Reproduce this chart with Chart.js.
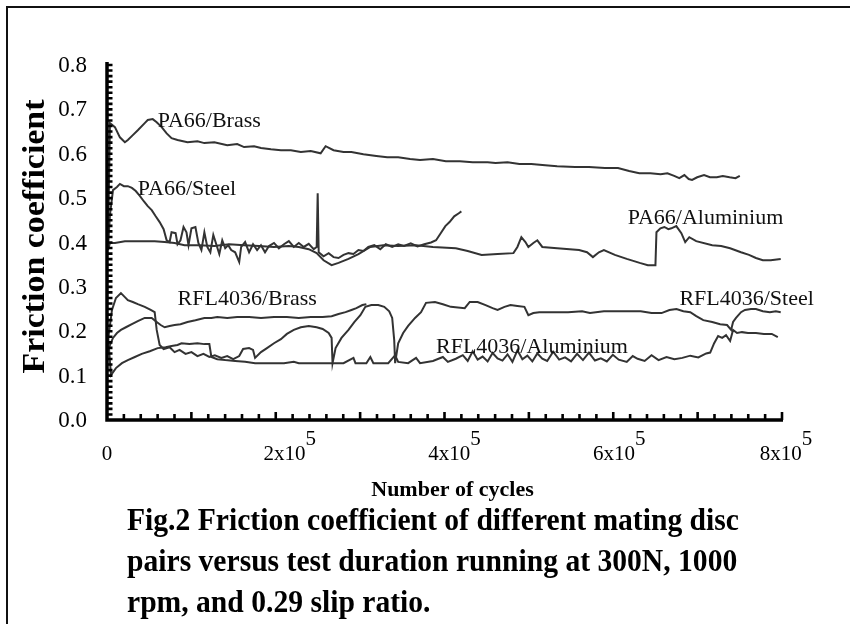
<!DOCTYPE html>
<html>
<head>
<meta charset="utf-8">
<script src="https://cdn.jsdelivr.net/npm/chart.js@4.4.1/dist/chart.umd.min.js"></script>
<style>
  html, body { margin:0; padding:0; background:#fff; }
  body { width:850px; height:624px; position:relative; overflow:hidden; }
  #frame { position:absolute; left:6px; top:6px; width:900px; height:700px;
           border-left:2px solid #111; border-top:2px solid #111; }
  #c { position:absolute; left:0; top:0; }
  #caption { position:absolute; left:127px; top:499px; font-family:'Liberation Serif','Times New Roman',serif;
             font-weight:bold; font-size:31px; line-height:41px; color:#000; white-space:pre;
             transform:scaleX(0.955); transform-origin:0 0; }
</style>
</head>
<body>
<div id="frame"></div>
<canvas id="c" width="850" height="624"></canvas>
<div id="caption">Fig.2 Friction coefficient of different mating disc
pairs versus test duration running at 300N, 1000
rpm, and 0.29 slip ratio.</div>
<script>
// ---------- data (x in thousands of cycles, y = friction coefficient) ----------
const pa66BrassCycles = [1.2,3.5,9.4,15.3,21.2,24.7,30.6,36.5,44.7,48.3,54.2,58.9,64.8,70.7,76.5,83.6,95.4,107.2,115.4,127.2,142.5,154.3,162.5,174.3,182.5,194.3,206.1,217.9,229.7,241.5,253.2,259.1,268.5,280.3,289.7,303.9,319.2,332.1,345.1,359.2,371.0,386.3,401.6,418.1,433.4,451.1,460.5,474.7,488.8,502.9,519.4,533.5,554.7,571.2,590.1,605.6,618.8,630.9,644.0,656.1,664.2,672.2,678.3,684.3,689.4,693.4,699.5,707.6,714.6,722.7,729.8,737.9,744.9,750.0];
const pa66BrassMu = [0.394,0.669,0.660,0.637,0.626,0.631,0.642,0.653,0.669,0.676,0.678,0.671,0.660,0.646,0.635,0.631,0.626,0.628,0.624,0.626,0.619,0.622,0.615,0.617,0.613,0.610,0.608,0.608,0.604,0.606,0.601,0.617,0.608,0.604,0.604,0.599,0.595,0.592,0.592,0.588,0.586,0.588,0.583,0.583,0.581,0.581,0.579,0.581,0.577,0.577,0.574,0.572,0.570,0.570,0.568,0.568,0.561,0.556,0.556,0.554,0.556,0.550,0.545,0.552,0.543,0.541,0.547,0.552,0.547,0.547,0.550,0.547,0.545,0.550];

const pa66SteelCycles = [1.2,3.5,7.1,11.8,15.3,20.0,24.7,29.5,34.1,38.9,43.6,48.3,53.0,57.7,62.4,67.1,70.7,74.2,76.5,81.3,83.6,87.1,90.7,94.2,96.6,100.1,104.8,108.3,111.9,115.4,118.9,122.5,126.0,129.5,133.1,136.6,140.1,143.7,147.2,151.9,156.7,159.0,163.7,168.4,173.1,177.9,182.5,187.3,192.0,197.9,203.7,209.7,215.5,221.4,227.3,233.2,239.1,245.0,248.5,249.7,250.9,256.7,262.7,268.5,274.4,280.3,286.2,292.1,298.0,303.9,309.7,316.8,323.9,330.4,338.0,345.1,352.0,360.0,368.0,376.0,384.0,390.0,395.5,401.0,406.0,411.5,417.0,420.0];
const pa66SteelMu = [0.390,0.462,0.518,0.525,0.532,0.527,0.527,0.523,0.516,0.505,0.493,0.482,0.473,0.459,0.446,0.430,0.405,0.401,0.423,0.421,0.396,0.405,0.435,0.423,0.394,0.432,0.435,0.399,0.383,0.423,0.390,0.378,0.417,0.396,0.374,0.405,0.387,0.394,0.383,0.378,0.356,0.390,0.401,0.378,0.396,0.383,0.394,0.378,0.392,0.399,0.387,0.396,0.403,0.390,0.399,0.390,0.397,0.385,0.390,0.511,0.378,0.369,0.376,0.367,0.365,0.372,0.376,0.374,0.383,0.381,0.390,0.394,0.385,0.396,0.390,0.396,0.392,0.398,0.391,0.396,0.400,0.405,0.421,0.437,0.446,0.459,0.466,0.470];

const pa66AlCycles = [1.2,3.5,9.4,21.2,38.9,56.5,68.3,80.1,91.9,109.5,127.2,144.9,162.5,180.2,197.9,215.5,227.3,239.1,248.5,256.7,266.2,274.4,286.2,298.0,312.1,327.4,345.1,366.3,386.3,413.4,427.5,444.0,462.9,481.7,486.4,491.1,495.9,499.4,505.3,510.0,515.9,533.5,559.5,568.9,575.9,583.0,588.9,601.9,616.0,631.3,641.0,650.0,651.2,655.9,660.6,665.3,668.9,674.7,680.7,685.3,690.1,698.3,717.3,727.9,738.5,751.4,760.9,769.1,777.3,786.7,798.5];
const pa66AlMu = [0.383,0.399,0.399,0.403,0.403,0.403,0.401,0.399,0.394,0.394,0.392,0.396,0.394,0.392,0.390,0.392,0.390,0.385,0.376,0.360,0.349,0.354,0.363,0.374,0.390,0.394,0.392,0.394,0.390,0.387,0.381,0.372,0.374,0.376,0.390,0.412,0.401,0.390,0.399,0.405,0.390,0.387,0.383,0.378,0.367,0.378,0.383,0.372,0.363,0.354,0.349,0.349,0.423,0.432,0.435,0.430,0.432,0.437,0.421,0.401,0.412,0.403,0.394,0.392,0.387,0.378,0.372,0.365,0.360,0.360,0.363];

const rflBrassCycles = [1.2,3.5,7.1,11.8,16.5,22.4,29.5,36.5,44.7,53.0,58.9,63.6,68.3,74.2,80.1,87.1,95.4,104.8,115.4,123.7,130.7,142.5,154.3,168.4,182.5,197.9,213.2,227.3,241.5,255.6,266.2,274.4,282.7,289.7,295.6,302.7,307.4];
const rflBrassMu = [0.153,0.169,0.185,0.196,0.203,0.209,0.216,0.223,0.230,0.230,0.221,0.214,0.209,0.212,0.214,0.216,0.221,0.225,0.230,0.230,0.232,0.230,0.232,0.232,0.230,0.232,0.232,0.230,0.232,0.232,0.234,0.239,0.243,0.248,0.252,0.259,0.261];

const rflSteelCycles = [1.2,5.9,10.6,16.5,21.2,24.7,30.6,36.5,44.7,51.8,56.5,58.9,62.4,67.1,74.2,80.1,86.0,93.1,100.1,107.2,114.3,121.3,127.8,135.5,142.5,149.6,156.7,161.3,168.4,173.1,175.5,182.5,189.6,197.9,206.1,213.2,221.4,229.7,239.1,248.5,255.6,262.7,266.2,267.3,270.9,277.9,286.2,293.3,300.3,306.2,313.3,321.5,328.6,334.5,338.0,340.4,341.5,345.1,351.0,356.9,365.1,372.2,378.1,388.7,398.1,407.5,424.0,429.9,439.3,448.7,457.0,462.9,471.1,478.2,486.4,494.7,499.4,505.3,512.3,527.7,546.5,563.0,572.4,588.9,604.2,618.3,632.5,645.4,657.2,666.6,674.9,683.1,691.3,698.4,706.7,717.3,726.7,734.9,739.7,742.0,745.5,751.4,756.1,763.2,769.1,777.3,785.6,792.7,798.5];
const rflSteelMu = [0.180,0.248,0.275,0.286,0.277,0.270,0.266,0.261,0.255,0.248,0.243,0.203,0.169,0.160,0.164,0.153,0.158,0.149,0.153,0.144,0.149,0.142,0.146,0.140,0.144,0.137,0.144,0.160,0.162,0.158,0.140,0.153,0.162,0.173,0.182,0.194,0.203,0.209,0.212,0.209,0.205,0.196,0.185,0.128,0.162,0.185,0.203,0.221,0.236,0.255,0.259,0.259,0.255,0.245,0.230,0.180,0.128,0.173,0.196,0.212,0.230,0.243,0.264,0.266,0.261,0.255,0.252,0.266,0.266,0.259,0.252,0.248,0.255,0.259,0.257,0.255,0.236,0.241,0.243,0.243,0.243,0.245,0.241,0.245,0.245,0.245,0.245,0.241,0.241,0.248,0.250,0.245,0.243,0.234,0.225,0.221,0.216,0.214,0.203,0.221,0.230,0.243,0.248,0.250,0.250,0.245,0.243,0.245,0.243];

const rflAlCycles = [1.2,4.7,10.6,17.7,24.7,33.0,41.2,50.7,60.1,69.5,76.5,83.6,88.3,97.7,107.2,115.4,121.3,123.7,130.7,140.1,151.9,163.7,175.5,186.1,197.9,209.7,221.4,227.3,239.1,248.5,255.6,280.3,292.1,294.5,307.4,312.1,315.7,333.3,341.5,345.1,356.9,366.3,371.0,386.3,398.1,404.0,413.4,421.7,427.5,433.4,439.3,445.2,451.1,457.0,462.9,468.7,474.7,480.5,486.4,492.3,498.2,504.1,510.0,515.9,521.7,528.8,535.9,542.9,550.0,557.1,564.1,571.2,578.3,585.3,592.4,599.5,606.5,616.0,623.1,628.9,637.2,645.4,653.7,663.1,672.5,681.9,691.3,700.8,710.2,714.9,719.6,724.3,729.1,733.7,738.5,742.0,746.7,752.6,759.7,769.1,778.5,787.9,795.0];
const rflAlMu = [0.191,0.101,0.117,0.128,0.135,0.142,0.149,0.155,0.162,0.164,0.167,0.169,0.173,0.171,0.173,0.171,0.171,0.142,0.137,0.135,0.133,0.131,0.128,0.128,0.128,0.128,0.131,0.128,0.128,0.128,0.128,0.128,0.140,0.128,0.128,0.142,0.128,0.128,0.146,0.131,0.128,0.140,0.128,0.133,0.142,0.131,0.138,0.146,0.133,0.155,0.136,0.143,0.132,0.151,0.139,0.134,0.148,0.131,0.157,0.137,0.145,0.132,0.150,0.138,0.133,0.154,0.136,0.141,0.132,0.149,0.135,0.152,0.134,0.139,0.132,0.147,0.136,0.131,0.144,0.138,0.133,0.146,0.135,0.142,0.137,0.140,0.145,0.141,0.150,0.152,0.173,0.189,0.185,0.191,0.178,0.203,0.196,0.198,0.196,0.196,0.194,0.194,0.187];

// series labels and their anchor positions (data units: cycles, friction coefficient)
const seriesNames = ['PA66/Brass','PA66/Steel','PA66/Aluminium','RFL4036/Brass','RFL4036/Steel','RFL4036/Aluminium'];
const labelCycles = [60100, 36500, 617100, 83600, 678400, 389900];
const labelMu     = [0.676, 0.523, 0.457, 0.275, 0.275, 0.167];

// axis ticks
const yTickValues = [0,0.1,0.2,0.3,0.4,0.5,0.6,0.7,0.8];
const yTickLabels = ['0.0','0.1','0.2','0.3','0.4','0.5','0.6','0.7','0.8'];
const xTickValues = [0,200000,400000,600000,800000];
const xTickMantissa = ['0','2','4','6','8'];
const xTickExponent = ['', '5', '5', '5', '5'];

const FONT = "'Liberation Serif','Times New Roman',serif";
const LINE = '#333333';

function series(cyc, mu) {
  const n = Math.min(cyc.length, mu.length);
  const out = [];
  for (let i = 0; i < n; i++) out.push({ x: cyc[i] * 1000, y: mu[i] });
  return out;
}

const datasets = [
  [pa66BrassCycles, pa66BrassMu],
  [pa66SteelCycles, pa66SteelMu],
  [pa66AlCycles, pa66AlMu],
  [rflBrassCycles, rflBrassMu],
  [rflSteelCycles, rflSteelMu],
  [rflAlCycles, rflAlMu]
].map((p, i) => ({
  label: seriesNames[i],
  data: series(p[0], p[1]),
  borderColor: LINE,
  borderWidth: 2,
  pointRadius: 0,
  tension: 0,
  fill: false
}));

const labelNudge = [0, 10, 6, 2, 0];

const paperAxes = {
  id: 'paperAxes',
  afterDatasetsDraw(chart) {
    const { ctx, scales: { x, y } } = chart;
    const x0 = x.getPixelForValue(0), x1 = x.getPixelForValue(800000);
    const y0 = y.getPixelForValue(0), y1 = y.getPixelForValue(0.8);
    ctx.save();
    // series labels
    ctx.fillStyle = '#111';
    ctx.font = '22px ' + FONT;
    ctx.textAlign = 'left';
    ctx.textBaseline = 'middle';
    seriesNames.forEach((s, i) => {
      ctx.fillText(s, x.getPixelForValue(labelCycles[i]), y.getPixelForValue(labelMu[i]) + 1);
    });
    // axis lines
    ctx.strokeStyle = '#000';
    ctx.lineWidth = 3.5;
    ctx.beginPath();
    ctx.moveTo(x0, y1 - 3); ctx.lineTo(x0, y0 + 1.75);
    ctx.moveTo(x0 - 1.75, y0); ctx.lineTo(x1 + 1, y0);
    ctx.stroke();
    // inward minor ticks
    ctx.lineWidth = 2.6;
    ctx.beginPath();
    for (let i = 1; i <= 64; i++) {
      const py = y.getPixelForValue(i * 0.0125);
      ctx.moveTo(x0, py); ctx.lineTo(x0 + 5.5, py);
    }
    for (let i = 1; i <= 40; i++) {
      const px = x.getPixelForValue(i * 20000);
      const len = (i % 5 === 0) ? 8 : 6;
      ctx.moveTo(px, y0); ctx.lineTo(px, y0 - len);
    }
    ctx.stroke();
    // y tick labels
    ctx.fillStyle = '#000';
    ctx.font = '23px ' + FONT;
    ctx.textAlign = 'right';
    ctx.textBaseline = 'middle';
    yTickValues.forEach((v, i) => ctx.fillText(yTickLabels[i], 87, y.getPixelForValue(v) + 1));
    // x tick labels with superscript exponent
    const fs = 21;
    xTickValues.forEach((v, i) => {
      const px = x.getPixelForValue(v);
      ctx.font = fs + 'px ' + FONT;
      const base = xTickExponent[i] ? xTickMantissa[i] + 'x10' : xTickMantissa[i];
      const w1 = ctx.measureText(base).width;
      const w2 = xTickExponent[i] ? ctx.measureText(xTickExponent[i]).width : 0;
      let left = px - (w1 + w2) / 2 + (xTickExponent[i] ? 4 : 0) + labelNudge[i];
      if (left + w1 + w2 > 841) left = 841 - w1 - w2;
      ctx.textAlign = 'left';
      ctx.textBaseline = 'alphabetic';
      ctx.fillText(base, left, 460);
      if (xTickExponent[i]) ctx.fillText(xTickExponent[i], left + w1, 445);
    });
    // axis titles
    ctx.font = 'bold 22px ' + FONT;
    ctx.textAlign = 'center';
    ctx.textBaseline = 'middle';
    ctx.fillText('Number of cycles', (x0 + x1) / 2 + 8, 490);
    ctx.translate(44, (y0 + y1) / 2 - 6);
    ctx.rotate(-Math.PI / 2);
    ctx.scale(1.06, 1);
    ctx.font = 'bold 32px ' + FONT;
    ctx.textBaseline = 'alphabetic';
    ctx.fillText('Friction coefficient', 0, 0);
    ctx.restore();
  }
};

new Chart(document.getElementById('c').getContext('2d'), {
  type: 'line',
  data: { datasets },
  options: {
    responsive: false,
    animation: false,
    devicePixelRatio: 1,
    layout: { padding: { left: 107, right: 68, top: 65, bottom: 204 } },
    plugins: { legend: { display: false }, tooltip: { enabled: false }, title: { display: false } },
    scales: {
      x: { type: 'linear', min: 0, max: 800000, display: false },
      y: { type: 'linear', min: 0, max: 0.8, display: false }
    }
  },
  plugins: [paperAxes]
});
</script>
</body>
</html>
